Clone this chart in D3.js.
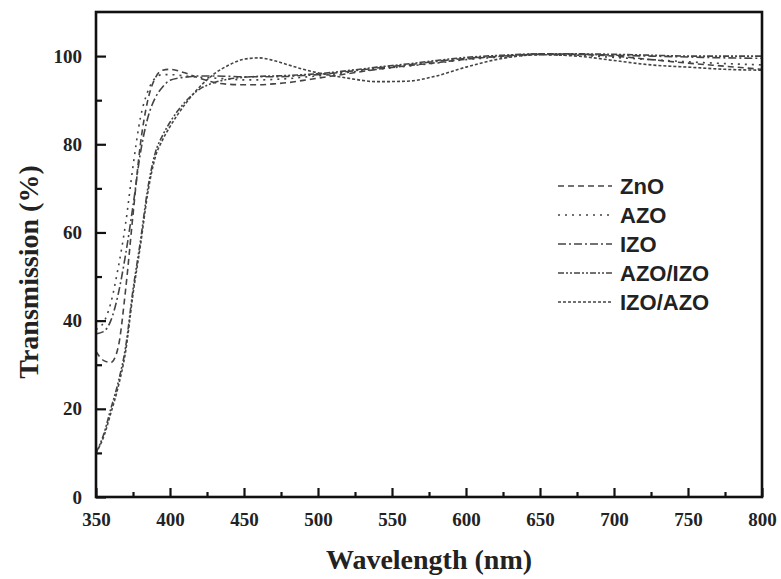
<!DOCTYPE html>
<html>
<head>
<meta charset="utf-8">
<script src="https://cdn.jsdelivr.net/npm/d3@7"></script>
<style>
  body { margin: 0; background: #fff; }
  .tick text { font-family: "Liberation Serif", "Times New Roman", serif; font-weight: bold; font-size: 19px; fill: #222; }
</style>
</head>
<body>
<div id="wrapper"></div>
<script>
// wavelengths (nm) shared by all series
const wavelengths = [350,355,360,365,370,375,380,385,390,395,400,410,420,430,440,450,460,470,480,490,500,520,540,560,580,600,625,650,675,700,725,750,775,800];

const znO    = [33,31,30.5,34,47,64,80,90,95,96.8,97,96.2,95,94,93.6,93.5,93.5,93.7,94,94.5,95,96,97,97.8,98.5,99.3,100,100.5,100.4,100,99.2,98.4,97.7,97];
const azo    = [38,39.5,44,52,62,75,86,92,95,95.8,95.8,95.5,95.2,95,94.8,94.6,94.6,94.7,94.9,95.2,95.5,96.3,97,97.7,98.4,99.2,99.8,100.3,100.2,99.7,99.2,98.7,98.3,98];
const izo    = [37,37.5,40,46,55,66,78,86,90.5,93,94.5,95.2,95.5,95.5,95.4,95.3,95.3,95.3,95.4,95.6,95.8,96.5,97.3,98,98.8,99.5,100,100.4,100.4,100.2,100,99.8,99.6,99.5];
const azoIzo = [10,14,20,26,34,47,58,70,78,82,85,89.5,92.5,94,94.8,95.2,95.4,95.5,95.6,95.8,96,96.7,97.5,98.2,99,99.7,100.2,100.5,100.5,100.4,100.2,100,100,100];
const izoAzo = [10,13.5,19,25,33,46,57,69,77,81,84,89,93,96,98,99.3,99.6,99,98,97,96.2,95,94.2,94.3,95.5,97.5,99.5,100.3,100,99,98,97.5,97,96.8];

const seriesNames = ["ZnO", "AZO", "IZO", "AZO/IZO", "IZO/AZO"];
const seriesValues = [znO, azo, izo, azoIzo, izoAzo];
const dashes = ["6,4", "2,5", "8,3,2,3", "6,2,2,2,2,2", "3,2"];

const xTicks = [350,400,450,500,550,600,650,700,750,800];
const xMinor = [375,425,475,525,575,625,675,725,775];
const yTicks = [0,20,40,60,80,100];
const yMinor = [10,30,50,70,90];

const dimension = {
    width: 781,
    height: 579,
    margin: { top: 12, left: 96, bottom: 82, right: 19 }
};
dimension.boundedWidth = dimension.width - dimension.margin.left - dimension.margin.right;
dimension.boundedHeight = dimension.height - dimension.margin.top - dimension.margin.bottom;

const svg = d3.select("#wrapper").append("svg")
    .attr("width", dimension.width)
    .attr("height", dimension.height);

const bounded = svg.append("g")
    .attr("transform", `translate(${dimension.margin.left},${dimension.margin.top})`);

const xScaler = d3.scaleLinear().domain([350, 800]).range([0, dimension.boundedWidth]);
const yScaler = d3.scaleLinear().domain([0, 110]).range([dimension.boundedHeight, 0]);

// curves
const lineGen = d3.line()
    .x(d => xScaler(d[0]))
    .y(d => yScaler(d[1]))
    .curve(d3.curveMonotoneX);

seriesValues.forEach((vals, i) => {
    bounded.append("path")
        .attr("fill", "none")
        .attr("stroke", "#444")
        .attr("stroke-width", 1.6)
        .attr("stroke-dasharray", dashes[i])
        .attr("d", lineGen(wavelengths.map((w, j) => [w, vals[j]])));
});

// axes with inward ticks
bounded.append("g")
    .attr("transform", `translate(0,${dimension.boundedHeight})`)
    .call(d3.axisBottom(xScaler).tickValues(xTicks).tickSizeInner(-9).tickSizeOuter(0).tickPadding(16));
bounded.append("g")
    .attr("transform", `translate(0,${dimension.boundedHeight})`)
    .call(d3.axisBottom(xScaler).tickValues(xMinor).tickFormat("").tickSizeInner(-5).tickSizeOuter(0));

bounded.append("g")
    .call(d3.axisLeft(yScaler).tickValues(yTicks).tickSizeInner(-10).tickSizeOuter(0).tickPadding(14));
bounded.append("g")
    .call(d3.axisLeft(yScaler).tickValues(yMinor).tickFormat("").tickSizeInner(-6).tickSizeOuter(0));

bounded.selectAll(".tick line").attr("stroke", "#111").attr("stroke-width", 2.2);
bounded.selectAll(".domain").attr("stroke", "none");

// frame
bounded.append("rect")
    .attr("x", 0).attr("y", 0)
    .attr("width", dimension.boundedWidth)
    .attr("height", dimension.boundedHeight)
    .attr("fill", "none")
    .attr("stroke", "#111")
    .attr("stroke-width", 2.6);

// axis titles
svg.append("text")
    .attr("x", dimension.margin.left + dimension.boundedWidth / 2)
    .attr("y", 569)
    .attr("text-anchor", "middle")
    .style("font-family", "'Liberation Serif', 'Times New Roman', serif")
    .style("font-weight", "bold")
    .style("font-size", "28px")
    .style("fill", "#222")
    .text("Wavelength (nm)");

svg.append("text")
    .attr("transform", "translate(38,272) rotate(-90)")
    .attr("text-anchor", "middle")
    .style("font-family", "'Liberation Serif', 'Times New Roman', serif")
    .style("font-weight", "bold")
    .style("font-size", "28px")
    .style("fill", "#222")
    .text("Transmission (%)");

// legend
const legend = svg.append("g");
seriesNames.forEach((name, i) => {
    const cy = 186 + i * 29;
    legend.append("line")
        .attr("x1", 558).attr("x2", 612)
        .attr("y1", cy).attr("y2", cy)
        .attr("stroke", "#444")
        .attr("stroke-width", 1.6)
        .attr("stroke-dasharray", dashes[i]);
    legend.append("text")
        .attr("x", 620)
        .attr("y", cy + 8)
        .style("font-family", "'Liberation Sans', Arial, sans-serif")
        .style("font-weight", "bold")
        .style("font-size", "22px")
        .style("fill", "#222")
        .text(name);
});
</script>
</body>
</html>
